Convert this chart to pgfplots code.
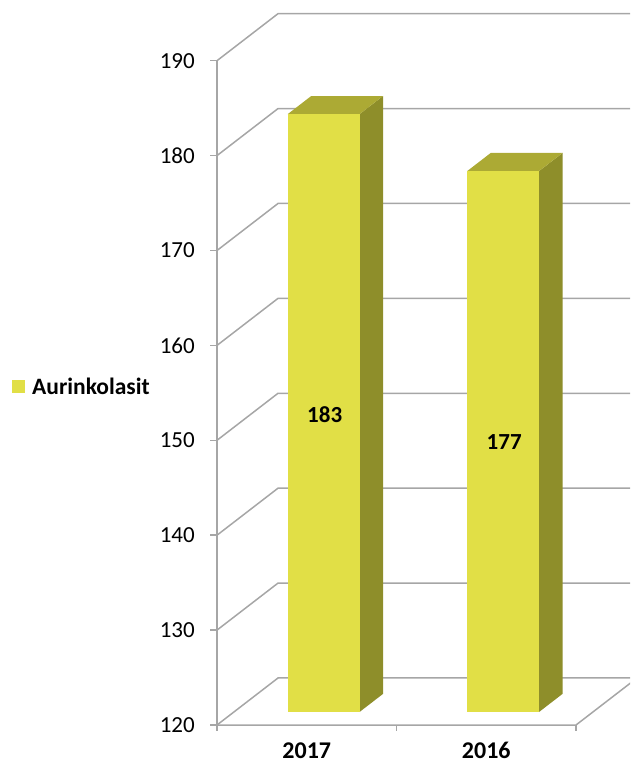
\documentclass[border=0pt]{standalone}
\usepackage{fontspec}
\setmainfont{Carlito}
\usepackage{pgfplots}
\usepackage{pgfplotstable}
\pgfplotsset{compat=1.18}
\definecolor{barfront}{RGB}{225,223,70}
\definecolor{barside}{RGB}{142,142,42}
\definecolor{bartop}{RGB}{172,170,52}
\definecolor{gridc}{RGB}{166,166,166}
\begin{document}
\begin{tikzpicture}
\begin{axis}[
  width=630pt, height=766pt, scale only axis,
  xmin=-1.2089, xmax=2.3008, ymin=115.68, ymax=196.397,
  axis line style={draw=none}, ticks=none,
  legend style={draw=none, fill=none, inner sep=0pt, at={(axis cs:-1.142,155.62)}, anchor=west,
    font=\fontsize{23.5}{27}\selectfont\bfseries, cells={anchor=west}},
  legend image code/.code={\fill[#1] (0pt,-6.5pt) rectangle (13pt,6.5pt); \path (18pt,0pt);},
]
\addlegendimage{fill=barfront, draw=none}
\addlegendentry{Aurinkolasit}
% back wall gridlines
\addplot[gridc, line width=1.5pt] coordinates {(0,130) (0.3398,134.953) (2.4,134.953)};
\addplot[gridc, line width=1.5pt] coordinates {(0,140) (0.3398,144.953) (2.4,144.953)};
\addplot[gridc, line width=1.5pt] coordinates {(0,150) (0.3398,154.953) (2.4,154.953)};
\addplot[gridc, line width=1.5pt] coordinates {(0,160) (0.3398,164.953) (2.4,164.953)};
\addplot[gridc, line width=1.5pt] coordinates {(0,170) (0.3398,174.953) (2.4,174.953)};
\addplot[gridc, line width=1.5pt] coordinates {(0,180) (0.3398,184.953) (2.4,184.953)};
\addplot[gridc, line width=1.5pt] coordinates {(0,190) (0.3398,194.953) (2.4,194.953)};
% floor
\addplot[gridc, line width=1.5pt] coordinates {(0,120) (0.3398,124.953) (2.4,124.953)};
\addplot[gridc, line width=1.5pt] coordinates {(0,120) (2,120) (2.3398,124.953)};
% front y axis and ticks
\addplot[gridc, line width=1.5pt] coordinates {(0,120) (0,190)};
\addplot[gridc, line width=1.5pt] coordinates {(-0.039,120) (0,120)};
\addplot[gridc, line width=1.5pt] coordinates {(-0.039,130) (0,130)};
\addplot[gridc, line width=1.5pt] coordinates {(-0.039,140) (0,140)};
\addplot[gridc, line width=1.5pt] coordinates {(-0.039,150) (0,150)};
\addplot[gridc, line width=1.5pt] coordinates {(-0.039,160) (0,160)};
\addplot[gridc, line width=1.5pt] coordinates {(-0.039,170) (0,170)};
\addplot[gridc, line width=1.5pt] coordinates {(-0.039,180) (0,180)};
\addplot[gridc, line width=1.5pt] coordinates {(-0.039,190) (0,190)};
% x ticks
\addplot[gridc, line width=1.5pt] coordinates {(0,120) (0,119.37)};
\addplot[gridc, line width=1.5pt] coordinates {(1,120) (1,119.37)};
\addplot[gridc, line width=1.5pt] coordinates {(2,120) (2,119.37)};
% bar 2017 = 183
\addplot[fill=barside, draw=none] coordinates {(0.7941,121.372) (0.9249,123.279) (0.9249,186.279) (0.7941,184.372)} -- cycle;
\addplot[fill=bartop, draw=none] coordinates {(0.3941,184.372) (0.7941,184.372) (0.9249,186.279) (0.5249,186.279)} -- cycle;
\addplot[fill=barfront, draw=none] coordinates {(0.3941,121.372) (0.7941,121.372) (0.7941,184.372) (0.3941,184.372)} -- cycle;
% bar 2016 = 177
\addplot[fill=barside, draw=none] coordinates {(1.7941,121.372) (1.9249,123.279) (1.9249,180.279) (1.7941,178.372)} -- cycle;
\addplot[fill=bartop, draw=none] coordinates {(1.3941,178.372) (1.7941,178.372) (1.9249,180.279) (1.5249,180.279)} -- cycle;
\addplot[fill=barfront, draw=none] coordinates {(1.3941,121.372) (1.7941,121.372) (1.7941,178.372) (1.3941,178.372)} -- cycle;
% data labels
\addplot[draw=none, mark=none, nodes near coords, point meta=explicit symbolic,
  every node near coord/.style={anchor=center, inner sep=0pt, font=\fontsize{23}{27}\selectfont\bfseries}]
  coordinates {(0.6,152.7) [183] (1.6,149.8) [177]};
% y tick labels
\pgfplotsinvokeforeach{120,130,...,190}{
  \node[anchor=east, inner sep=0pt, font=\fontsize{23}{27}\selectfont] at (axis cs:-0.1226,#1) {#1};
}
% x labels
\node[anchor=base, inner sep=0pt, font=\fontsize{24}{28}\selectfont\bfseries] at (axis cs:0.5,116.42) {2017};
\node[anchor=base, inner sep=0pt, font=\fontsize{24}{28}\selectfont\bfseries] at (axis cs:1.5,116.42) {2016};
\end{axis}
\end{tikzpicture}
\end{document}
